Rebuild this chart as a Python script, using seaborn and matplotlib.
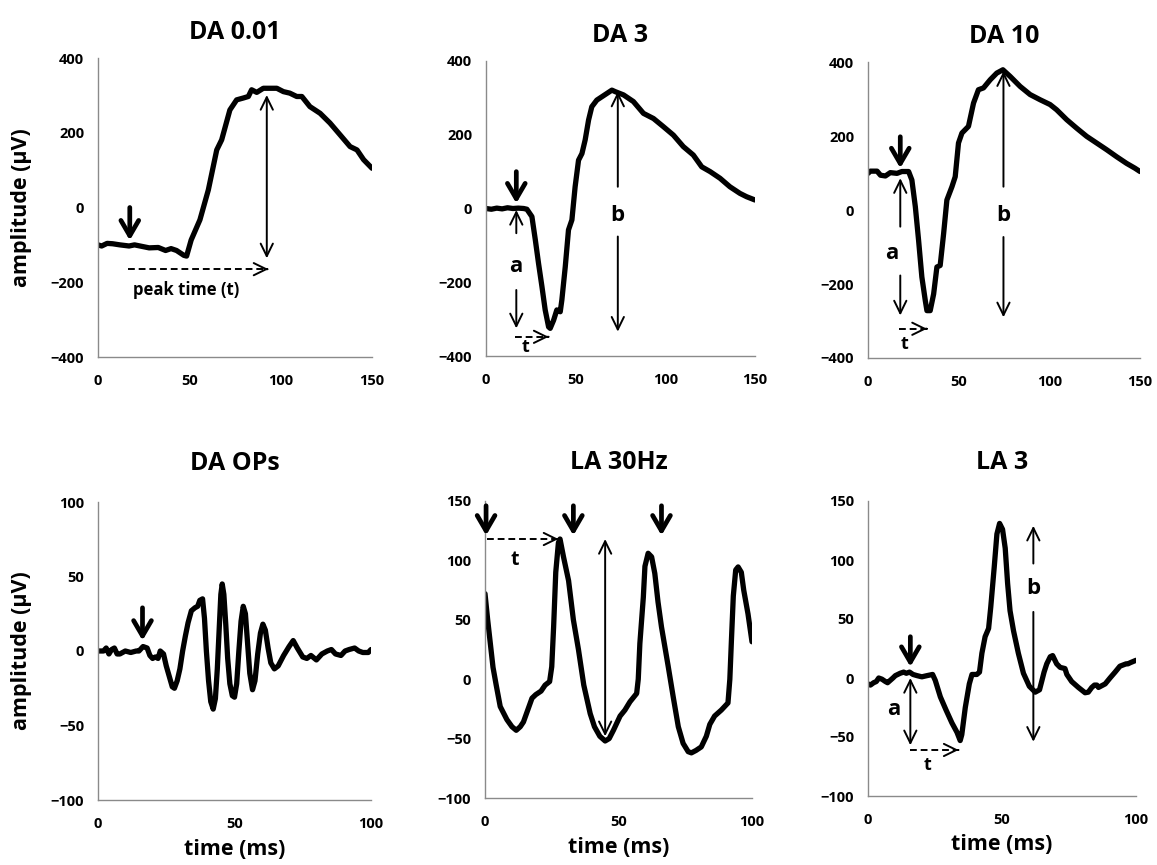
import numpy as np
import matplotlib
matplotlib.use("Agg")
import matplotlib.pyplot as plt
import seaborn as sns

# DA 0.01
da001_t = [0, 2, 5, 8, 12, 17, 20, 24, 28, 33, 37, 40, 43, 47, 48.5, 51, 55.8, 60.4, 65, 67.7,
           72.2, 75.9, 79.6, 82.3, 84.1, 86.9, 90.5, 97.9, 101.5, 105, 108.8, 111.6, 116, 121.6,
           127, 132.6, 138, 141.8, 145.4, 150]
da001_v = [-100, -103, -96, -97, -100, -103, -100, -104, -108, -107, -115, -110, -115, -128, -130, -87,
           -33, 47, 154, 181, 261, 288, 293, 297, 315, 308, 319, 319, 310, 306, 297, 297, 270, 252,
           226, 194, 163, 154, 128, 105]

# DA 3
da3_t = [0, 3, 6, 9, 12, 15, 18, 21, 22.8, 25.6, 27.5, 29.3, 31.2, 33, 34.9, 35.8, 37.7, 39.5, 41.4,
         42.3, 44.2, 46, 47.9, 49.7, 51.6, 53.5, 55.3, 57.2, 59, 61.8, 64.6, 67.4, 70.2, 72, 76.7,
         82.2, 87.8, 93.4, 98.9, 104.5, 110, 115.6, 120.3, 125, 130.5, 136, 141.6, 145.3, 150]
da3_v = [0, -2, 1, -1, 2, 0, 1, 0, -2, -22, -85, -149, -212, -275, -321, -325, -303, -275, -280,
         -248, -158, -58, -31, 59, 131, 149, 186, 240, 276, 294, 303, 312, 321, 317, 308,
         290, 258, 244, 222, 199, 168, 145, 113, 100, 82, 59, 41, 32, 23]

# DA 10
da10_t = [0, 1.3, 5, 6.9, 9.6, 12.3, 16, 18.7, 22.4, 24.2, 26.1, 27.9, 29.7, 31.6, 32.5, 34.3, 36.2,
          38, 39.8, 41.7, 43.5, 46.3, 48.1, 49.9, 51.8, 55.4, 58.2, 60.9, 63.7, 67.4, 71, 74.4, 78.4,
          83.9, 89.4, 94.9, 100.4, 104, 109.6, 115.1, 120.6, 126.1, 131.6, 137.1, 142.6, 147.2, 150]
da10_v = [99, 105, 105, 94, 92, 101, 99, 104, 104, 81, 9, -82, -181, -245, -272, -272, -227,
          -154, -150, -64, 27, 63, 90, 181, 208, 226, 289, 325, 330, 352, 370, 379, 361,
          334, 312, 298, 285, 271, 244, 221, 199, 181, 163, 144, 126, 113, 104]

# DA OPs
ops_t = [0, 2, 3, 4, 5, 6, 7, 8, 10, 12, 14, 15, 16.5, 18, 19, 20, 21, 22, 22.8, 24, 25, 27.2, 28,
         29, 30, 31, 32, 33, 34.2, 35.5, 36.5, 37.3, 38.3, 39, 39.7, 40.5, 41.3, 42.2, 43, 43.7,
         44.4, 45, 45.5, 46.1, 46.8, 47.5, 48.3, 49.2, 50, 50.8, 51.6, 52.4, 53.2, 54, 54.8, 55.6,
         56.6, 57.5, 58.5, 59.5, 60.4, 61.3, 62.3, 63.3, 64.6, 66, 68, 70, 71.5, 73, 75, 76.5, 78,
         80, 82, 84, 85.5, 87, 89, 90.5, 92, 94, 95.5, 97, 99, 100]
ops_v = [0, 0, 2, -2, 1, 2, -2, -2, 0, -1, 0, 0, 3, 2, -3, -5, -4, -5, 0, -2, -10, -24, -25,
         -20, -12, 0, 10, 19, 27, 29, 30, 34, 35, 22, 0, -20, -34, -39, -32, -12,
         15, 38, 45, 38, 18, -5, -22, -30, -31, -22, 0, 20, 30, 25, 5, -15,
         -26, -20, -2, 12, 18, 14, 2, -8, -12, -10, -3, 3, 7, 2, -4, -5, -3,
         -6, -2, 0, 1, -2, -3, 0, 1, 2, 0, -1, -1, 1]

# LA 30Hz
la30_t = [0, 1, 2, 3, 4.2, 5.7, 8.2, 10.1, 11.7, 13.2, 14.4, 16, 17.6, 19, 21, 22.5, 24.2, 25, 25.7,
          26.5, 27.5, 28.1, 29.4, 31.3, 33.1, 35, 37, 39.4, 41, 43, 45, 46.5, 48.1, 50.6, 52.4, 54.3,
          56.8, 57.4, 58, 59.3, 59.9, 61.1, 62.4, 63.6, 64.8, 66.1, 68.6, 70.5, 72.4, 74.2, 76.1,
          77.3, 79, 81, 82.9, 84.2, 86, 88.5, 91, 91.7, 92.3, 93, 93.9, 94.8, 96, 96.9, 98.5, 100]
la30_v = [72, 50, 30, 10, -5, -23, -34, -40, -43, -40, -36, -26, -16, -13, -10, -5, -2, 10.5, 44,
          90, 115, 118, 103, 83, 50, 25, -5, -29, -40, -48, -52, -50, -43, -31, -26, -19,
          -12, 0, 30, 69, 95, 106, 103, 89, 65, 44, 11, -15, -40, -54, -61,
          -62, -60, -57, -48, -38, -31, -26, -20, 0, 33, 70, 92, 94.5, 90, 75, 55, 31.5]

# LA 3
la3_t = [0, 0.9, 2.1, 3.1, 4, 5.2, 6.5, 7.3, 8.3, 9.3, 10.2, 12, 13.3, 14.3, 15.5, 16.8, 18.3, 20.1,
         22, 24.1, 25.1, 27, 29.1, 31.3, 33.2, 34.4, 35, 36.3, 37.8, 38.8, 40.6, 41.6, 42.5, 43.7,
         45, 45.8, 47.1, 48.1, 49.1, 50.2, 51.2, 52.1, 53, 54.3, 56.1, 58, 60.2, 62.4, 64, 64.8,
         65.7, 66.7, 68, 68.9, 70.4, 71.7, 73.5, 74.2, 76, 78.5, 81, 82.2, 83.5, 84.5, 85.4, 86,
         88.5, 90.3, 92.2, 94, 96.3, 97, 97.9, 100]
la3_v = [-5, -6, -4, -3, 0, -1, -3, -4, -2, 0, 2, 4, 5, 4, 5, 3, 2, 1,
         2, 3, -2, -16, -27, -38, -46, -53, -48, -25, -5, 3, 3, 5, 21, 35,
         42, 60, 94, 122, 131, 126, 110, 80, 57, 40, 21, 4, -7, -12, -10, -3,
         5, 12, 18, 19, 12, 9, 8, 3, -3, -8, -12.5, -12, -8, -6, -6, -8,
         -5, 0, 5, 10, 12, 12, 13, 15]

titles = ["DA 0.01", "DA 3", "DA 10", "DA OPs", "LA 30Hz", "LA 3"]
xlims = [(0, 150), (0, 150), (0, 150), (0, 100), (0, 100), (0, 100)]
ylims = [(-400, 400), (-400, 400), (-400, 400), (-100, 100), (-100, 150), (-100, 150)]
ysteps = [200, 200, 200, 50, 50, 50]

sns.set_theme(style="white")
plt.rcParams['font.family'] = ['Open Sans', 'DejaVu Sans']
plt.rcParams['font.weight'] = 'bold'
plt.rcParams['text.color'] = 'black'
plt.rcParams['axes.labelcolor'] = 'black'
plt.rcParams['axes.titlecolor'] = 'black'

W, H = 1157, 865
fig = plt.figure(figsize=(W / 100, H / 100), dpi=100)
fig.patch.set_facecolor('white')

# pixel boxes (left, top, right, bottom)
boxes = [(98, 58, 372, 357), (486, 61, 755, 356), (868, 62, 1140, 358),
         (98, 502, 371, 800), (485, 501, 752, 798), (868, 501, 1136, 796)]
series = [(da001_t, da001_v), (da3_t, da3_v), (da10_t, da10_v),
          (ops_t, ops_v), (la30_t, la30_v), (la3_t, la3_v)]

gray = '#8a8a8a'
axes = []
for i, (l, t, r, b) in enumerate(boxes):
    ax = fig.add_axes([l / W, 1 - b / H, (r - l) / W, (b - t) / H])
    x, y = series[i]
    sns.lineplot(x=x, y=y, ax=ax, color='black', lw=3.8, estimator=None, sort=False)
    ax.set_xlim(*xlims[i])
    ax.set_ylim(*ylims[i])
    ax.set_xticks(np.arange(xlims[i][0], xlims[i][1] + 1, 50))
    ax.set_yticks(np.arange(ylims[i][0], ylims[i][1] + 1, ysteps[i]))
    for s in ['top', 'right']:
        ax.spines[s].set_visible(False)
    for s in ['left', 'bottom']:
        ax.spines[s].set_color(gray)
        ax.spines[s].set_linewidth(1.0)
    ax.tick_params(axis='both', direction='out', length=5, width=1, color=gray,
                   labelsize=10.5, labelcolor='black')
    ax.tick_params(axis='y', pad=5)
    ax.tick_params(axis='x', pad=7)
    for lab in ax.get_xticklabels() + ax.get_yticklabels():
        lab.set_fontweight('bold')
    ax.set_facecolor('white')
    ax.set_title(titles[i], fontsize=18, fontweight='bold', color='black', pad=14 if i < 3 else 23)
    if i % 3 == 0:
        ax.set_ylabel('amplitude (µV)', fontsize=15.5, fontweight='bold', color='black')
        ax.yaxis.set_label_coords(-0.24, 0.5)
    if i >= 3:
        ax.set_xlabel('time (ms)', fontsize=15.5, fontweight='bold', color='black')
        ax.xaxis.set_label_coords(0.5, -0.13)
    axes.append(ax)


def bold_arrow(ax, x, y0, y1):
    ax.annotate('', xy=(x, y1), xytext=(x, y0),
                arrowprops=dict(arrowstyle='->,head_length=0.55,head_width=0.32', lw=3.4,
                                color='black', mutation_scale=20, shrinkA=0, shrinkB=0))


def thin_arrow(ax, x, y0, y1, style='->'):
    ax.annotate('', xy=(x, y1), xytext=(x, y0),
                arrowprops=dict(arrowstyle=style + ',head_length=0.45,head_width=0.22', lw=1.4,
                                color='black', mutation_scale=20, shrinkA=0, shrinkB=0))


def dashed_arrow(ax, x0, x1, y):
    ax.plot([x0, x1], [y, y], color='black', lw=1.4, ls=(0, (3.5, 2)))
    span = x1 - x0
    ax.annotate('', xy=(x1, y), xytext=(x1 - span * 0.01, y),
                arrowprops=dict(arrowstyle='->,head_length=0.45,head_width=0.22', lw=1.4,
                                color='black', mutation_scale=20, shrinkA=0, shrinkB=0))


# DA 0.01
ax = axes[0]
bold_arrow(ax, 17.4, 0, -88)
thin_arrow(ax, 92.4, 301, -136, '<->')
dashed_arrow(ax, 16.5, 93.3, -165)
ax.text(48.5, -222, 'peak time (t)', ha='center', va='center', fontsize=12, fontweight='bold')

# DA 3
ax = axes[1]
bold_arrow(ax, 16.9, 100, 14)
thin_arrow(ax, 16.9, -67, -4)
thin_arrow(ax, 16.9, -221, -325)
ax.text(16.5, -158, 'a', ha='center', va='center', fontsize=16, fontweight='bold')
thin_arrow(ax, 73.5, 59, 317)
thin_arrow(ax, 73.5, -76, -334)
ax.text(73.5, -18, 'b', ha='center', va='center', fontsize=16, fontweight='bold')
dashed_arrow(ax, 16.3, 34.9, -348)
ax.text(21.9, -375, 't', ha='center', va='center', fontsize=13, fontweight='bold')

# DA 10
ax = axes[2]
bold_arrow(ax, 17.8, 198, 113)
thin_arrow(ax, 17.8, -45, 86)
thin_arrow(ax, 17.8, -177, -285)
ax.text(13.2, -118, 'a', ha='center', va='center', fontsize=16, fontweight='bold')
thin_arrow(ax, 74.7, 63, 375)
thin_arrow(ax, 74.7, -73, -290)
ax.text(74.7, -14, 'b', ha='center', va='center', fontsize=16, fontweight='bold')
dashed_arrow(ax, 16.9, 32.5, -321)
ax.text(20, -362, 't', ha='center', va='center', fontsize=13, fontweight='bold')

# DA OPs
ax = axes[3]
bold_arrow(ax, 16.3, 29, 7)

# LA 30Hz
ax = axes[4]
for xa in [0.4, 33.1, 66.1]:
    bold_arrow(ax, xa, 146, 121)
dashed_arrow(ax, 0.7, 27.5, 118)
ax.text(11.3, 100, 't', ha='center', va='center', fontsize=14, fontweight='bold')
thin_arrow(ax, 45, 118, -48, '<->')

# LA 3
ax = axes[5]
bold_arrow(ax, 15.8, 35, 9.5)
thin_arrow(ax, 15.8, 0, -57, '<->')
ax.text(9.6, -27, 'a', ha='center', va='center', fontsize=16, fontweight='bold')
dashed_arrow(ax, 15.8, 33.8, -61)
ax.text(22.2, -74, 't', ha='center', va='center', fontsize=13, fontweight='bold')
thin_arrow(ax, 61.7, 97, 129)
thin_arrow(ax, 61.7, 56, -54)
ax.text(61.7, 76, 'b', ha='center', va='center', fontsize=16, fontweight='bold')

fig.savefig('out.png', dpi=100, facecolor='white')
